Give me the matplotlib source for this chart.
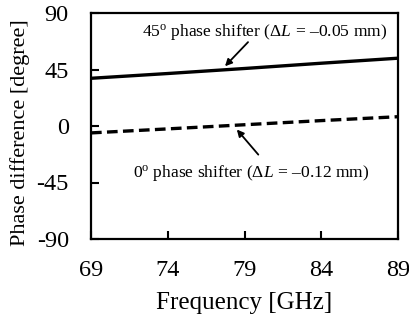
import numpy as np
import matplotlib
matplotlib.use("Agg")
from matplotlib import pyplot as plt

plt.rcParams["font.family"] = ["Liberation Serif", "DejaVu Serif"]
plt.rcParams["mathtext.fontset"] = "custom"
plt.rcParams["mathtext.rm"] = "Liberation Serif"
plt.rcParams["mathtext.it"] = "Liberation Serif:italic"

# Measured phase difference vs frequency
freq = [69, 74, 79, 84, 89]
phase_45 = [38.0, 41.8, 45.8, 50.0, 54.0]
phase_0 = [-5.5, -2.3, 1.0, 4.3, 7.4]

x_ticks = [69, 74, 79, 84, 89]
y_ticks = [-90, -45, 0, 45, 90]
y_tick_labels = ["-90", "-45", "0", "45", "90"]

fig = plt.figure(figsize=(4.1, 3.2), dpi=100)
ax = fig.add_axes([91 / 410, 81 / 320, 307 / 410, 226 / 320])

ax.plot(freq, phase_45, color="black", lw=2.4, solid_capstyle="butt")
ax.plot(freq, phase_0, color="black", lw=2.4, dashes=(3.2, 1.6))

ax.set_xlim(69, 89)
ax.set_ylim(-90, 90)
ax.set_xticks(x_ticks)
ax.set_yticks(y_ticks)
ax.set_yticklabels(y_tick_labels)
ax.tick_params(direction="in", length=6, width=1.5, labelsize=17.5,
               top=False, right=False)
ax.tick_params(axis="y", pad=16)
ax.tick_params(axis="x", pad=15)
for s in ax.spines.values():
    s.set_linewidth(1.6)

ax.set_xlabel("Frequency [GHz]", fontsize=18)
ax.set_ylabel("Phase difference [degree]", fontsize=16)
ax.xaxis.set_label_coords(0.5, -0.235)
ax.yaxis.set_label_coords(-0.2, 0.47)

# labels with pointer arrows
ax.text(80.3, 74.8, "45$^{\\rm o}$ phase shifter ($\\mathit{\\Delta L}$ = \u20130.05 mm)",
        fontsize=12.6, ha="center", va="center")
ax.text(79.45, -37.2, "0$^{\\rm o}$ phase shifter ($\\mathit{\\Delta L}$ = \u20130.12 mm)",
        fontsize=12.6, ha="center", va="center")
arrow = dict(arrowstyle="-|>", color="black", lw=1.3, mutation_scale=10,
             shrinkA=0, shrinkB=0)
ax.annotate("", xy=(77.73, 47.6), xytext=(79.23, 66.8), arrowprops=arrow)
ax.annotate("", xy=(78.5, -2.8), xytext=(79.9, -22.8), arrowprops=arrow)

fig.savefig("out.png", dpi=100)
